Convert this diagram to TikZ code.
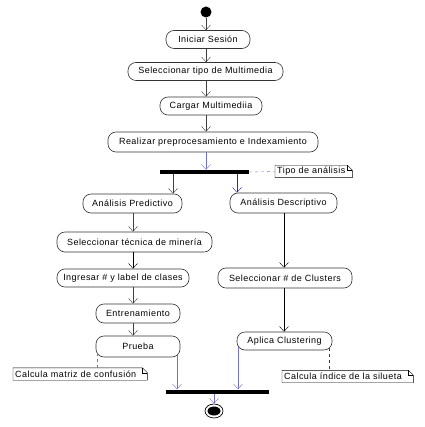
\documentclass[tikz,border=0pt]{standalone}
\usepackage{fontspec}
\setmainfont{Liberation Sans}[LetterSpace=5]
\usetikzlibrary{arrows.meta,shapes.geometric}

\definecolor{flowblue}{RGB}{112,112,205}
\definecolor{darkblue}{RGB}{45,45,150}

\tikzset{
	act/.style={draw=black!80, line width=0.6pt, rounded corners=8pt, minimum height=18pt, inner sep=1pt, font=\fontsize{9}{10}\selectfont},
	note/.style={inner xsep=2pt, inner ysep=1pt, minimum height=12pt, anchor=west, align=left, font=\fontsize{9}{10}\selectfont},
	flow/.style={->, black!75},
	bflow/.style={->, flowblue},
	notelink/.style={dashed, flowblue}
}

\begin{document}
\begin{tikzpicture}[x=1pt, y=-1pt, >={Straight Barb[length=5pt,width=9pt]}]
	\useasboundingbox (0,0) rectangle (424,427);
	% axes of the arrows
	\coordinate (mx) at (206,0); \coordinate (lx) at (133,0); \coordinate (rx) at (284,0);
	\coordinate (fl) at (173,0); \coordinate (fr) at (237,0);
	\coordinate (pj) at (177,0); \coordinate (aj) at (238,0); \coordinate (ex) at (214,0);
	\coordinate (pm) at (97,0); \coordinate (sx) at (329,0);

	\node[circle, fill, inner sep=0, minimum size=11pt] (start) at (206,12) {};
	\node[act, minimum width=84pt] (ini) at (208,39.5) {Iniciar Sesión};
	\node[act, minimum width=155pt] (selTipo) at (205.5,71.5) {Seleccionar tipo de Multimedia};
	\node[act, minimum width=102pt] (cargar) at (211,106) {Cargar Multimediia};
	\node[act, minimum width=210pt, minimum height=20pt] (realizar) at (213,142) {Realizar preprocesamiento e Indexamiento};
	\node[fill, inner sep=0, minimum width=89pt, minimum height=4pt] (fork) at (204.5,172) {};

	\node[act, minimum width=99pt, minimum height=19pt] (predictivo) at (132.5,203.5) {Análisis Predictivo};
	\node[act, minimum width=155pt, minimum height=20pt] (tecnica) at (134.5,242) {Seleccionar técnica de minería};
	\node[act, minimum width=132pt] (ingresar) at (123,278) {Ingresar \# y label de clases};
	\node[act, minimum width=84pt, minimum height=19pt] (entrena) at (138,313.5) {Entrenamiento};
	\node[act, minimum width=84pt, minimum height=21pt] (prueba) at (138,346.5) {Prueba};

	\node[act, minimum width=107pt, minimum height=20pt] (descriptivo) at (283.5,203) {Análisis Descriptivo};
	\node[act, minimum width=134pt, minimum height=20pt] (clusters) at (285,278) {Seleccionar \# de Clusters};
	\node[act, minimum width=95pt] (aplica) at (284.5,341) {Aplica Clustering};

	\node[fill, inner sep=0, minimum width=103pt, minimum height=4pt] (join) at (217.5,391.5) {};
	\node[ellipse, draw, line width=0.7pt, inner sep=0, minimum width=18pt, minimum height=14pt] (fin) at (214,411) {};
	\fill (fin) ellipse (6.5 and 4.5);

	\node[note, text width=73pt] (tipo) at (275,171.5) {Tipo de análisis};
	\node[note, text width=130pt] (matriz) at (13,374) {Calcula matriz de confusión};
	\node[note, text width=127pt] (silueta) at (282,376.5) {Calcula índice de la silueta};
	\foreach \n in {tipo, matriz, silueta} {
		\draw (\n.south west) -- (\n.north west) -- ([xshift=-5pt]\n.north east) -- ([yshift=-5pt]\n.north east) -- (\n.south east) -- cycle;
		\draw ([xshift=-5pt]\n.north east) |- ([yshift=-5pt]\n.north east);
	}

	% main line
	\draw[flow] (start.south) -- (ini.north -| mx);
	\draw[flow] (ini.south -| mx) -- (selTipo.north -| mx);
	\draw[flow] (selTipo.south -| mx) -- (cargar.north -| mx);
	\draw[flow] (cargar.south -| mx) -- (realizar.north -| mx);
	\draw[bflow] (realizar.south -| mx) -- (fork.north -| mx);
	\draw[flow] (fork.south -| fl) -- (predictivo.north -| fl);
	\draw[->, darkblue] (fork.south -| fr) -- (descriptivo.north -| fr);

	% predictive branch
	\draw[flow] (predictivo.south -| lx) -- (tecnica.north -| lx);
	\draw[->, black] (tecnica.south -| lx) -- (ingresar.north -| lx);
	\draw[flow] (ingresar.south -| lx) -- (entrena.north -| lx);
	\draw[flow] (entrena.south -| lx) -- (prueba.north -| lx);
	\draw[bflow] ([yshift=2pt]prueba.south -| pj) -- (join.north -| pj);

	% descriptive branch
	\draw[->, black] (descriptivo.south -| rx) -- (clusters.north -| rx);
	\draw[->, black] (clusters.south -| rx) -- (aplica.north -| rx);
	\draw[bflow] ([yshift=3pt]aplica.south -| aj) -- (join.north -| aj);

	\draw[bflow] (join.south -| ex) -- (fin.north);

	% notes
	\draw[notelink] (fork.east) -- (tipo.west);
	\draw[notelink] ([yshift=4pt]prueba.south -| pm) -- (matriz.north -| pm);
	\draw[notelink, darkblue] ([yshift=2pt]aplica.south -| sx) -- (silueta.north -| sx);
\end{tikzpicture}
\end{document}
